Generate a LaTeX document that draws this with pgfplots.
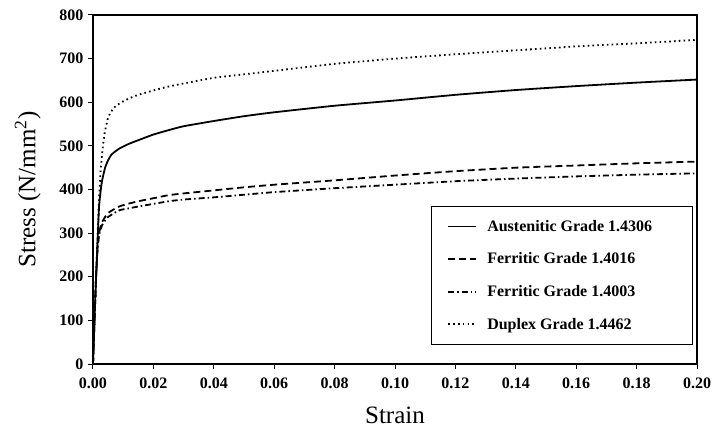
\documentclass[border=0pt]{standalone}
\usepackage{fontspec}
\setmainfont{Liberation Serif}
\usepackage{pgfplots}
\pgfplotsset{compat=1.18}

% Stress-strain curves of four stainless steel grades
\pgfplotstableread{
strain stress
0      0
0.0005 100
0.001  200
0.0015 290
0.002  380
0.0025 440
0.003  480
0.0035 512
0.004  535
0.005  565
0.006  578
0.007  588
0.0085 596
0.010  602
0.012  609
0.015  617
0.020  627
0.025  636
0.030  643
0.040  656
0.050  664
0.060  672
0.080  688
0.100  700
0.120  710
0.140  719
0.160  728
0.180  735
0.200  743
}\duplex

\pgfplotstableread{
strain stress
0      0
0.0005 100
0.001  195
0.0015 280
0.002  360
0.0025 395
0.003  420
0.004  450
0.005  467
0.006  479
0.0075 488
0.009  495
0.012  505
0.015  513
0.020  526
0.025  536
0.030  545
0.040  557
0.050  568
0.060  577
0.080  592
0.100  604
0.120  617
0.140  628
0.160  637
0.180  645
0.200  652
}\austenitic

\pgfplotstableread{
strain stress
0      0
0.0005 100
0.001  195
0.0015 265
0.002  300
0.0025 314
0.003  325
0.004  337
0.005  346
0.007  355
0.009  362
0.012  368
0.015  373
0.020  380
0.025  387
0.030  391
0.040  398
0.050  405
0.060  411
0.080  421
0.100  432
0.120  442
0.140  450
0.160  455
0.180  460
0.200  464
}\ferriticA

\pgfplotstableread{
strain stress
0      0
0.0005 100
0.001  195
0.0015 262
0.002  295
0.0025 308
0.003  318
0.004  329
0.005  337
0.007  346
0.009  353
0.012  357
0.015  361
0.020  367
0.025  373
0.030  377
0.040  382
0.050  388
0.060  394
0.080  403
0.100  411
0.120  419
0.140  425
0.160  430
0.180  434
0.200  437
}\ferriticB

\begin{document}
\begin{tikzpicture}
\begin{axis}[
  at={(0,0)}, anchor=south west,
  scale only axis,
  width=604pt, height=349pt,
  xmin=0, xmax=0.2, ymin=0, ymax=800,
  xtick={0,0.02,...,0.2},
  ytick={0,100,...,800},
  tick pos=left,
  tick align=outside,
  major tick length=5pt,
  axis line style={line width=1.3pt},
  every tick/.style={black, line width=1pt},
  /pgf/number format/assume math mode=true,
  xticklabel={\pgfmathprintnumber[fixed,fixed zerofill,precision=2]{\tick}},
  ticklabel style={font=\bfseries\fontsize{16}{16}\selectfont},
  xticklabel style={yshift=-5pt},
  yticklabel style={/pgf/number format/fixed, xshift=-1pt},
  xlabel={Strain},
  ylabel={Stress (N/mm\textsuperscript{2})},
  every axis x label/.style={at={(axis description cs:0.5,-0.146)}, anchor=center, font=\fontsize{25}{25}\selectfont},
  every axis y label/.style={at={(axis description cs:-0.108,0.5)}, anchor=center, rotate=90, font=\fontsize{25}{25}\selectfont},
  legend style={
    at={(axis description cs:0.993,0.054)}, anchor=south east,
    draw=black, line width=1.2pt,
    font=\bfseries\fontsize{16}{16}\selectfont,
    row sep=16pt, inner xsep=16pt, inner ysep=12pt,
    cells={anchor=west},
    /tikz/every odd column/.append style={column sep=8pt},
  },
  legend image code/.code={
    \draw[#1, line width=1.8pt] (0pt,0pt) -- (28pt,0pt);},
  every axis plot/.append style={line width=1.8pt, black, smooth, tension=0.3},
]
\addplot[solid] table[x=strain, y=stress] {\austenitic};
\addlegendentry{Austenitic Grade 1.4306\hspace*{22pt}}
\addplot[dash pattern=on 7pt off 4pt] table[x=strain, y=stress] {\ferriticA};
\addlegendentry{Ferritic Grade 1.4016}
\addplot[dash pattern=on 6pt off 3pt on 1.5pt off 3pt] table[x=strain, y=stress] {\ferriticB};
\addlegendentry{Ferritic Grade 1.4003}
\addplot[dash pattern=on 1.6pt off 3.2pt] table[x=strain, y=stress] {\duplex};
\addlegendentry{Duplex Grade 1.4462}
\end{axis}
\pgfresetboundingbox
\path[use as bounding box] (-93pt,-67pt) rectangle (621pt,364pt);
\end{tikzpicture}
\end{document}
